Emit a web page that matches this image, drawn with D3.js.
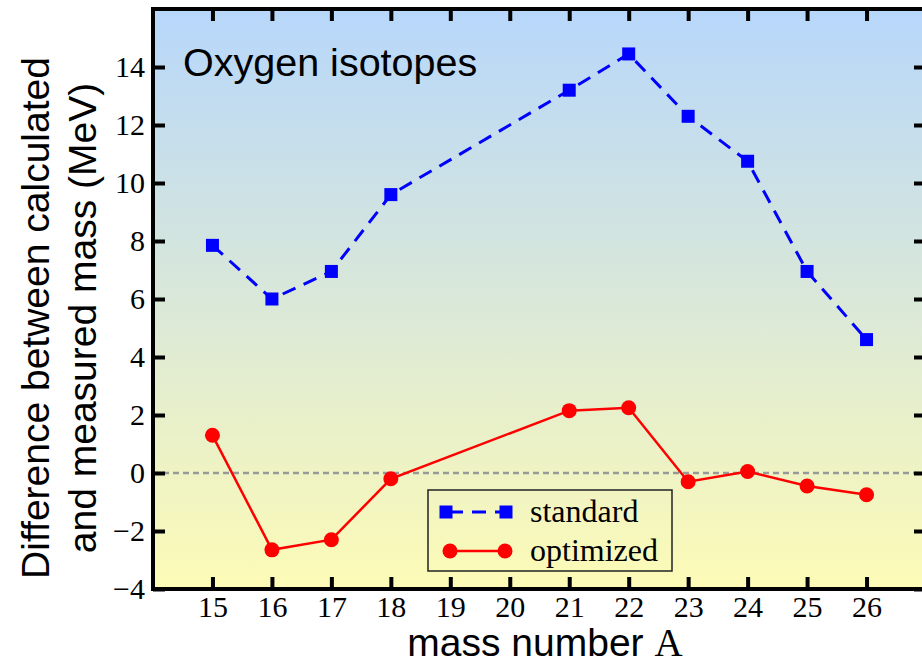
<!DOCTYPE html>
<html><head><meta charset="utf-8">
<script src="https://cdn.jsdelivr.net/npm/d3@7"></script>
<style>body{margin:0;background:#fff}svg{display:block}</style>
</head><body>
<svg id="c" width="922" height="664"></svg>
<script>
const massNumbers = [15, 16, 17, 18, 21, 22, 23, 24, 25, 26];
const standardValues = [7.85, 6.0, 6.95, 9.6, 13.2, 14.45, 12.3, 10.75, 6.95, 4.6];
const optimizedValues = [1.3, -2.65, -2.3, -0.2, 2.15, 2.25, -0.3, 0.05, -0.45, -0.75];
const xTicks = [15, 16, 17, 18, 19, 20, 21, 22, 23, 24, 25, 26];
const yTicks = [-4, -2, 0, 2, 4, 6, 8, 10, 12, 14];
const seriesNames = ["standard", "optimized"];

const svg = d3.select("#c");
const L = 153, R = 926, T = 9, B = 589;
const x = d3.scaleLinear().domain([14, 27]).range([L, R]);
const y = d3.scaleLinear().domain([-4, 16]).range([B, T]);

const defs = svg.append("defs");
const g = defs.append("linearGradient").attr("id", "bg").attr("x1", 0).attr("y1", 0).attr("x2", 0).attr("y2", 1);
g.append("stop").attr("offset", "0%").attr("stop-color", "#b7d7fb");
g.append("stop").attr("offset", "45%").attr("stop-color", "#d6e6dc");
g.append("stop").attr("offset", "100%").attr("stop-color", "#fdfbb6");
defs.append("clipPath").attr("id", "clip").append("rect").attr("x", L).attr("y", T).attr("width", R - L).attr("height", B - T);

svg.append("rect").attr("x", L).attr("y", T).attr("width", R - L).attr("height", B - T).attr("fill", "url(#bg)");

// zero line
svg.append("line").attr("x1", L).attr("x2", R).attr("y1", y(0)).attr("y2", y(0))
  .attr("stroke", "#999").attr("stroke-width", 2.5).attr("stroke-dasharray", "6,4");

const plot = svg.append("g").attr("clip-path", "url(#clip)");

const line = d3.line().x((d, i) => x(massNumbers[i])).y(d => y(d));
plot.append("path").datum(standardValues).attr("d", line).attr("fill", "none")
  .attr("stroke", "#0000ff").attr("stroke-width", 3).attr("stroke-dasharray", "14,9");
plot.append("path").datum(optimizedValues).attr("d", line).attr("fill", "none")
  .attr("stroke", "#ff0000").attr("stroke-width", 2.5);

plot.selectAll("rect.sq").data(standardValues).enter().append("rect").attr("class", "sq")
  .attr("x", (d, i) => x(massNumbers[i]) - 6.5).attr("y", d => y(d) - 6.5)
  .attr("width", 13).attr("height", 13).attr("fill", "#0000ff");
plot.selectAll("circle.ci").data(optimizedValues).enter().append("circle").attr("class", "ci")
  .attr("cx", (d, i) => x(massNumbers[i])).attr("cy", d => y(d)).attr("r", 7.5).attr("fill", "#ff0000");

// axes
const tickLen = 12;
const axB = svg.append("g").attr("transform", `translate(0,${B})`)
  .call(d3.axisBottom(x).tickValues(xTicks).tickSize(-tickLen).tickPadding(7).tickFormat(d3.format("d")));
const axT = svg.append("g").attr("transform", `translate(0,${T})`)
  .call(d3.axisTop(x).tickValues(xTicks).tickSize(-tickLen).tickFormat(""));
const axL = svg.append("g").attr("transform", `translate(${L},0)`)
  .call(d3.axisLeft(y).tickValues(yTicks).tickSize(-tickLen).tickPadding(8).tickFormat(d => d < 0 ? "\u2212" + Math.abs(d) : d));
const axR = svg.append("g").attr("transform", `translate(${R},0)`)
  .call(d3.axisRight(y).tickValues(yTicks).tickSize(-tickLen).tickFormat(""));
[axB, axT, axL, axR].forEach(a => {
  a.select(".domain").remove();
  a.selectAll(".tick line").attr("stroke", "#000").attr("stroke-width", 4);
  a.selectAll("text").attr("font-family", "'Liberation Serif', 'Times New Roman', serif")
    .attr("font-size", 30).attr("fill", "#000");
});

svg.append("rect").attr("x", L).attr("y", T).attr("width", R - L).attr("height", B - T)
  .attr("fill", "none").attr("stroke", "#000").attr("stroke-width", 4);

// title
svg.append("text").attr("x", 183).attr("y", 76).attr("font-family", "'Liberation Sans', Arial, sans-serif")
  .attr("font-size", 39.5).attr("fill", "#000").text("Oxygen isotopes");

// x label
const xl = svg.append("text").attr("x", 545).attr("y", 656).attr("text-anchor", "middle")
  .attr("font-family", "'Liberation Sans', Arial, sans-serif").attr("font-size", 39).attr("fill", "#000");
xl.append("tspan").text("mass number ");
xl.append("tspan").attr("font-family", "'Liberation Serif', 'Times New Roman', serif").text("A");

// y label
const yl = svg.append("text").attr("transform", "translate(0,318) rotate(-90)").attr("text-anchor", "middle")
  .attr("font-family", "'Liberation Sans', Arial, sans-serif").attr("font-size", 39).attr("fill", "#000");
yl.append("tspan").attr("x", 0).attr("y", 49).text("Difference between calculated");
yl.append("tspan").attr("x", 0).attr("y", 96).text("and measured mass (MeV)");

// legend
const lg = svg.append("g");
lg.append("rect").attr("x", 428).attr("y", 490).attr("width", 244).attr("height", 81)
  .attr("fill", "none").attr("stroke", "#222").attr("stroke-width", 1.5);
const legY = [512, 551];
lg.append("line").attr("x1", 445).attr("x2", 507).attr("y1", legY[0]).attr("y2", legY[0])
  .attr("stroke", "#0000ff").attr("stroke-width", 3).attr("stroke-dasharray", "14,9").attr("stroke-dashoffset", -4);
[446, 506].forEach(cx => lg.append("rect").attr("x", cx - 6.5).attr("y", legY[0] - 6.5).attr("width", 13).attr("height", 13).attr("fill", "#0000ff"));
lg.append("line").attr("x1", 450).attr("x2", 505).attr("y1", legY[1]).attr("y2", legY[1])
  .attr("stroke", "#ff0000").attr("stroke-width", 2.5);
[450, 505].forEach(cx => lg.append("circle").attr("cx", cx).attr("cy", legY[1]).attr("r", 7.5).attr("fill", "#ff0000"));
lg.selectAll("text.lt").data(seriesNames).enter().append("text").attr("class", "lt")
  .attr("x", 530).attr("y", (d, i) => legY[i] + 10)
  .attr("font-family", "'Liberation Serif', 'Times New Roman', serif").attr("font-size", 32).attr("fill", "#000")
  .text(d => d);
</script>
</body></html>
